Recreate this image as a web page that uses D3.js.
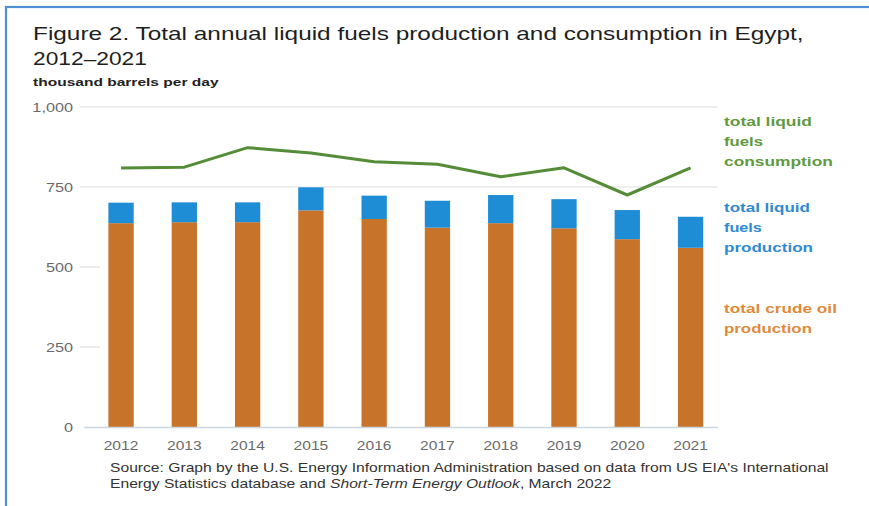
<!DOCTYPE html>
<html>
<head>
<meta charset="utf-8">
<script src="https://cdn.jsdelivr.net/npm/d3@7"></script>
<style>
  html, body { margin: 0; padding: 0; background: #ffffff; }
  svg { display: block; font-family: Arial, "Liberation Sans", sans-serif; }
</style>
</head>
<body>
<svg id="chart" width="869" height="506"></svg>
<script>
// ---- data ----
const years = ["2012","2013","2014","2015","2016","2017","2018","2019","2020","2021"];
const crudeOil = [637, 640, 640, 677, 650, 623, 637, 621, 587, 560];
const totalProduction = [701, 702, 702, 749, 723, 707, 725, 712, 678, 657];
const consumption = [809, 812, 873, 856, 829, 821, 782, 810, 725, 810];
const yTicks = [0, 250, 500, 750, 1000];

// ---- layout ----
const svg = d3.select("#chart");
const W = 869, H = 506;

// frame
svg.append("rect").attr("x", 6).attr("y", 7).attr("width", W + 20).attr("height", H + 20)
  .attr("fill", "#ffffff").attr("stroke", "#4f8fd4").attr("stroke-width", 2.2);

const x = d3.scaleBand().domain(years).range([89.4, 722.2]).paddingInner(0.6).paddingOuter(0.3);
const y = d3.scaleLinear().domain([0, 1000]).range([427, 107]);

// helper: place text and stretch horizontally to a target width
function fit(sel, tx, ty, target, anchor) {
  sel.attr("x", 0).attr("y", 0).attr("text-anchor", anchor || "start");
  const w = sel.node().getBBox().width;
  const s = target / w;
  sel.attr("transform", `translate(${tx},${ty}) scale(${s},1)`);
  return sel;
}

// title
fit(svg.append("text").text("Figure 2. Total annual liquid fuels production and consumption in Egypt,")
  .attr("font-size", 18).attr("fill", "#1e1e1e"), 33, 39.5, 771);
fit(svg.append("text").text("2012\u20132021")
  .attr("font-size", 18).attr("fill", "#1e1e1e"), 33, 64.5, 114);
fit(svg.append("text").text("thousand barrels per day")
  .attr("font-size", 11).attr("font-weight", "bold").attr("fill", "#222"), 33, 86, 187);

// gridlines (only the upper ones are visible in the original; lower ones only show as short stubs)
const grid = svg.append("g");
yTicks.filter(t => t > 0).forEach(t => {
  grid.append("line").attr("x1", 80).attr("x2", t >= 750 ? 718 : 100).attr("y1", y(t)).attr("y2", y(t))
    .attr("stroke", "#e0e0e0").attr("stroke-width", 1.2);
});

// y axis labels via d3 axis
const yAxis = svg.append("g")
  .call(d3.axisLeft(y).tickValues(yTicks).tickSize(0).tickFormat(d3.format(",")));
yAxis.select(".domain").remove();
yAxis.selectAll(".tick text").each(function(d) {
  const t = d3.select(this);
  t.attr("font-size", 12.5).attr("fill", "#6a6a6a").attr("font-family", "Arial, 'Liberation Sans', sans-serif").attr("dy", null).attr("dx", null);
  t.attr("x", 0).attr("y", 0).attr("text-anchor", "end").attr("transform", `translate(73,4.5) scale(1.3,1)`);
});

// bars: crude oil
svg.append("g").selectAll("rect").data(years).join("rect")
  .attr("x", d => x(d)).attr("width", x.bandwidth())
  .attr("y", (d, i) => y(crudeOil[i])).attr("height", (d, i) => y(0) - y(crudeOil[i]))
  .attr("fill", "#c8732a");
// bars: other liquids (stacked)
svg.append("g").selectAll("rect").data(years).join("rect")
  .attr("x", d => x(d)).attr("width", x.bandwidth())
  .attr("y", (d, i) => y(totalProduction[i])).attr("height", (d, i) => y(crudeOil[i]) - y(totalProduction[i]))
  .attr("fill", "#1f8dd6");

// baseline
svg.append("line").attr("x1", 84).attr("x2", 718).attr("y1", y(0) + 0.5).attr("y2", y(0) + 0.5)
  .attr("stroke", "#cbd8e4").attr("stroke-width", 1.5);

// consumption line
const line = d3.line().x((d, i) => x(years[i]) + x.bandwidth() / 2).y(d => y(d));
svg.append("path").datum(consumption).attr("d", line)
  .attr("fill", "none").attr("stroke", "#558c37").attr("stroke-width", 3).attr("stroke-linejoin", "round");

// x axis labels via d3 axis
const xAxis = svg.append("g").attr("transform", `translate(0,${y(0)})`)
  .call(d3.axisBottom(x).tickSize(0));
xAxis.select(".domain").remove();
xAxis.selectAll(".tick text").each(function(d) {
  const t = d3.select(this);
  t.attr("font-size", 13).attr("fill", "#6a6a6a").attr("font-family", "Arial, 'Liberation Sans', sans-serif").attr("dy", null);
  t.attr("x", 0).attr("y", 0).attr("text-anchor", "middle").attr("transform", `translate(0,23) scale(1.2,1)`);
});

// legend labels
const legend = [
  { lines: ["total liquid", "fuels", "consumption"], widths: [88, 39, 109], y0: 126, color: "#5f9a3f" },
  { lines: ["total liquid", "fuels", "production"], widths: [86, 38, 89], y0: 211.5, color: "#2f8ad4" },
  { lines: ["total crude oil", "production"], widths: [113, 88], y0: 313, color: "#de8a3a" }
];
legend.forEach(L => {
  L.lines.forEach((s, j) => {
    fit(svg.append("text").text(s).attr("font-size", 12.5).attr("font-weight", "bold").attr("fill", L.color),
      724, L.y0 + j * 20, L.widths[j]);
  });
});

// source
fit(svg.append("text").text("Source: Graph by the U.S. Energy Information Administration based on data from US EIA's International")
  .attr("font-size", 12).attr("fill", "#333"), 110, 471.5, 719);
const src2 = svg.append("text").attr("font-size", 12).attr("fill", "#333");
src2.append("tspan").text("Energy Statistics database and ");
src2.append("tspan").attr("font-style", "italic").text("Short-Term Energy Outlook");
src2.append("tspan").text(", March 2022");
fit(src2, 110, 488, 502);
</script>
</body>
</html>
